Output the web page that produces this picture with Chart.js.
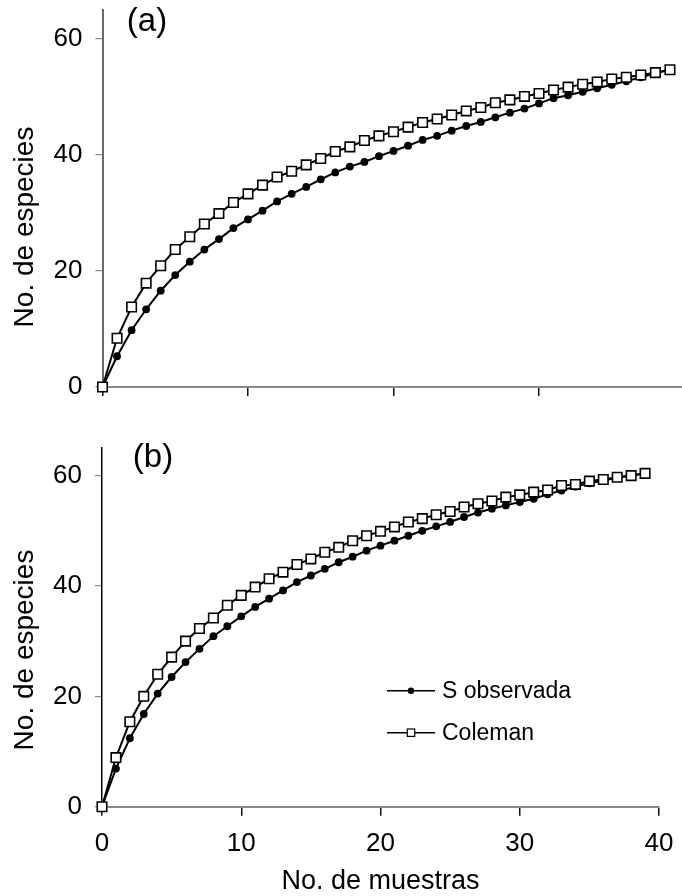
<!DOCTYPE html>
<html><head><meta charset="utf-8">
<script src="https://cdn.jsdelivr.net/npm/chart.js@4.4.1/dist/chart.umd.min.js"></script>
<style>
html,body{margin:0;padding:0;background:#fff;overflow:hidden;width:682px;height:896px;}
canvas{position:absolute;left:0;}
</style></head><body>
<canvas id="ca" width="700" height="410" style="top:0;width:700px;height:410px"></canvas>
<canvas id="cb" width="682" height="486" style="top:410px;width:682px;height:486px"></canvas>
<script>
const muestras = [0,1,2,3,4,5,6,7,8,9,10,11,12,13,14,15,16,17,18,19,20,21,22,23,24,25,26,27,28,29,30,31,32,33,34,35,36,37,38,39];
const sObservadaA = [0,5.3,9.8,13.4,16.6,19.3,21.6,23.7,25.5,27.4,28.9,30.4,32.0,33.3,34.5,35.8,37.0,38.0,38.8,39.8,40.7,41.6,42.6,43.3,44.2,45.0,45.7,46.5,47.3,48.0,48.9,49.8,50.3,50.9,51.5,52.1,52.7,53.4,54.1,54.7];
const colemanA = [0,8.4,13.8,17.9,20.9,23.7,25.9,28.1,29.9,31.8,33.3,34.8,36.2,37.2,38.3,39.4,40.6,41.4,42.5,43.3,44.0,44.8,45.6,46.2,46.9,47.6,48.2,49.0,49.5,50.1,50.6,51.2,51.7,52.2,52.6,53.1,53.4,53.8,54.2,54.7];
const sObservadaB = [0,6.9,12.4,16.8,20.5,23.5,26.2,28.6,30.9,32.7,34.5,36.2,37.7,39.2,40.7,41.9,43.1,44.3,45.3,46.4,47.3,48.2,49.1,50.0,50.8,51.6,52.5,53.3,54.0,54.6,55.2,55.8,56.6,57.3,58.0,58.6,59.1,59.6,60.0,60.4];
const colemanB = [0,8.9,15.4,20.0,24.0,27.1,30.0,32.3,34.2,36.5,38.3,39.8,41.3,42.5,43.9,44.9,46.1,47.0,48.2,49.1,49.9,50.7,51.6,52.2,52.9,53.5,54.3,54.9,55.4,56.1,56.5,57.0,57.4,58.2,58.4,59.0,59.3,59.7,60.0,60.4];
const yTickValues = [0,20,40,60];
const xTickValues = [0,10,20,30,40];
const seriesNames = ['S observada','Coleman'];
const panelNames = ['(a)','(b)'];
const yTitleText = 'No. de especies';
const xTitleText = 'No. de muestras';

const FONT = "'Liberation Sans', Arial, Helvetica, sans-serif";

function pts(xs, ys){ return xs.map((x,i)=>({x:x, y:ys[i]})); }

function zeroPad(s){ s.paddingTop = 0; s.paddingBottom = 0; s.paddingLeft = 0; s.paddingRight = 0; }

function decorPlugin(o){
  return {
    id:'decor'+o.panel,
    afterDraw(chart){
      const ctx = chart.ctx;
      ctx.save();
      ctx.fillStyle = '#000';
      // y-axis title
      ctx.save();
      ctx.translate(o.yTitleX, o.yTitleY);
      ctx.rotate(-Math.PI/2);
      ctx.font = '28px ' + FONT;
      ctx.textAlign = 'center';
      ctx.textBaseline = 'middle';
      ctx.fillText(yTitleText, 0, 0);
      ctx.restore();
      // panel label
      ctx.font = '33px ' + FONT;
      ctx.textAlign = 'center';
      ctx.textBaseline = 'middle';
      ctx.fillText(o.label, o.labelX, o.labelY);
      // legend
      if (o.legend){
        const ds = chart.data.datasets;
        [ds[0], ds[1]].forEach((d, i) => {
          const y = o.legend.y[i];
          ctx.strokeStyle = '#000';
          ctx.lineWidth = 1.5;
          ctx.beginPath();
          ctx.moveTo(o.legend.x0, y); ctx.lineTo(o.legend.x1, y);
          ctx.stroke();
          const mx = (o.legend.x0 + o.legend.x1)/2;
          if (d.pointStyle === 'circle'){
            ctx.fillStyle = '#000';
            ctx.beginPath(); ctx.arc(mx, y, 3.2, 0, Math.PI*2); ctx.fill();
          } else {
            ctx.fillStyle = '#fff';
            ctx.fillRect(mx-3.7, y-3.7, 7.4, 7.4);
            ctx.lineWidth = 1.2;
            ctx.strokeRect(mx-3.7, y-3.7, 7.4, 7.4);
          }
          ctx.fillStyle = '#000';
          ctx.font = '23px ' + FONT;
          ctx.textAlign = 'left';
          ctx.textBaseline = 'middle';
          ctx.fillText(d.label, o.legend.tx, y + 1);
        });
      }
      ctx.restore();
    }
  };
}

function makePanel(canvasId, obs, col, o){
  return new Chart(document.getElementById(canvasId), {
    type:'line',
    data:{
      datasets:[
        { label: seriesNames[0], data: pts(muestras, obs), order: 1,
          borderColor:'#000', borderWidth:2, tension:0,
          pointStyle:'circle', pointRadius:3.9, pointBackgroundColor:'#000',
          pointBorderColor:'#000', pointBorderWidth:0, clip:false },
        { label: seriesNames[1], data: pts(muestras, col), order: 0,
          borderColor:'#000', borderWidth:2, tension:0,
          pointStyle:'rect', pointRadius:6.7, pointBackgroundColor:'#fff',
          pointBorderColor:'#000', pointBorderWidth:1.6, clip:false }
      ]
    },
    options:{
      responsive:false, animation:false, devicePixelRatio:1,
      layout:{ padding:{ top:o.padTop, right:o.padRight, bottom:0, left:0 } },
      plugins:{ legend:{display:false}, tooltip:{enabled:false} },
      scales:{
        x:{
          type:'linear', min:0, max:40,
          afterBuildTicks: s => { s.ticks = xTickValues.map(v => ({value:v})); },
          afterFit: s => { s.height = o.xh; zeroPad(s); },
          border:{ display:true, color:'#8a8a8a', width:2 },
          grid:{ drawOnChartArea:false, drawTicks:true, tickLength:9, color:'#111', lineWidth:1.5 },
          ticks:{ display:o.showX, color:'#000', padding:13, maxRotation:0, font:{ family:FONT, size:26 } },
          title:{ display:o.showX, text:xTitleText, color:'#000', font:{ family:FONT, size:27, lineHeight:1 }, padding:{top:0, bottom:1} }
        },
        y:{
          type:'linear', min:0, max:65,
          afterBuildTicks: s => { s.ticks = yTickValues.map(v => ({value:v})); },
          afterFit: s => { s.width = o.yw; zeroPad(s); },
          border:{ display:true, color:o.yAxisColor, width:o.yAxisWidth },
          grid:{ drawOnChartArea:false, drawTicks:true, tickLength:7, color:'#888', lineWidth:1.2 },
          ticks:{ color:'#000', padding:13, font:{ family:FONT, size:26 } }
        }
      }
    },
    plugins:[ decorPlugin(o) ]
  });
}

makePanel('ca', sObservadaA, colemanA, {
  panel:'a', padTop:10, padRight:15.5, xh:23, yw:102.5, showX:false,
  yAxisColor:'#6a6a6a', yAxisWidth:2,
  yTitleX:25, yTitleY:227, label:panelNames[0], labelX:147, labelY:22, legend:null
});
makePanel('cb', sObservadaB, colemanB, {
  panel:'b', padTop:38, padRight:23, xh:89.3, yw:102, showX:true,
  yAxisColor:'#000', yAxisWidth:1.5,
  yTitleX:25, yTitleY:240, label:panelNames[1], labelX:153, labelY:48,
  legend:{ x0:387, x1:435, tx:442, y:[280.7, 322.7] }
});
</script>
</body></html>
